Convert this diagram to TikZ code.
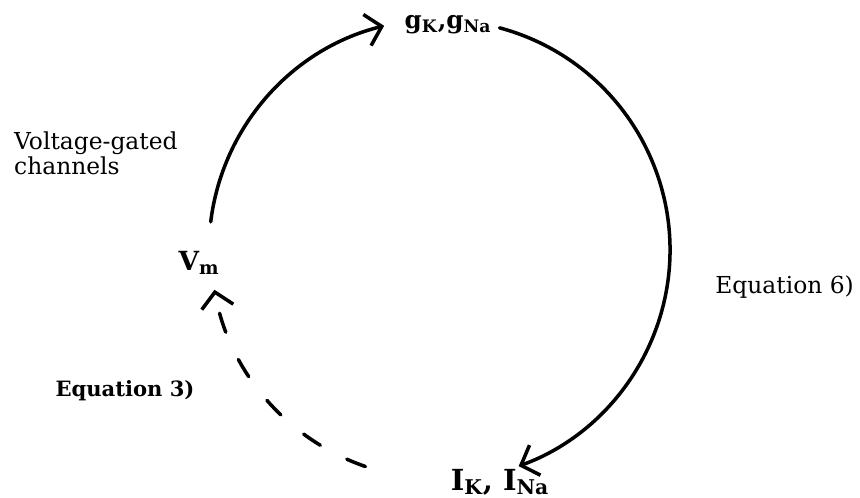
\documentclass[tikz,border=0pt]{standalone}
\usepackage{fontspec}
\setmainfont{DejaVu Serif}
\usetikzlibrary{arrows.meta, positioning, calc}

\tikzset{
  state/.style={font=\fontsize{15}{18}\selectfont\bfseries},
  note/.style={font=\fontsize{13.3}{16}\selectfont, align=left},
  cycle/.style={line width=2pt, line cap=round},
}

\begin{document}
\begin{tikzpicture}[>={Straight Barb[length=3mm, width=6.4mm, line width=2pt]}]
  \useasboundingbox (0,0) rectangle (17.2,9.96);
  % centre of the loop
  \coordinate (c) at (8.8,4.96);

  \node[state, font=\fontsize{14}{17}\selectfont\bfseries] (g) at (8.96,9.46) {g\textsubscript{K},g\textsubscript{Na}};
  \node[state] (vm) at (3.98,4.70) {V\textsubscript{m}};
  \node[state, font=\fontsize{16.5}{19}\selectfont\bfseries] (i) at (10.0,0.32) {I\textsubscript{K}, I\textsubscript{Na}};

  \node[note, anchor=west] (vgc) at (0.16,6.9) {Voltage-gated\\[-2pt]channels};
  \node[note, anchor=east] (eq6) at (17.2,4.22) {Equation 6)};
  \node[note, font=\fontsize{12}{15}\selectfont\bfseries] (eq3) at (2.5,2.14) {Equation 3)};

  % arc end points on the loop
  \coordinate (vmout) at ($(c)+(173:4.62)$);
  \coordinate (gout) at ($(c)+(75:4.6)$);
  \coordinate (iout) at ($(c)+(251:4.58)$);

  \draw[cycle, ->] (vmout) arc[start angle=173, end angle=104, radius=4.62];
  \draw[cycle, ->] (gout) arc[start angle=75, end angle=-70, radius=4.6];
  \draw[cycle, ->, dash pattern=on 0.4cm off 0.6cm] (iout)
    arc[start angle=251, end angle=190, radius=4.58];
\end{tikzpicture}
\end{document}
